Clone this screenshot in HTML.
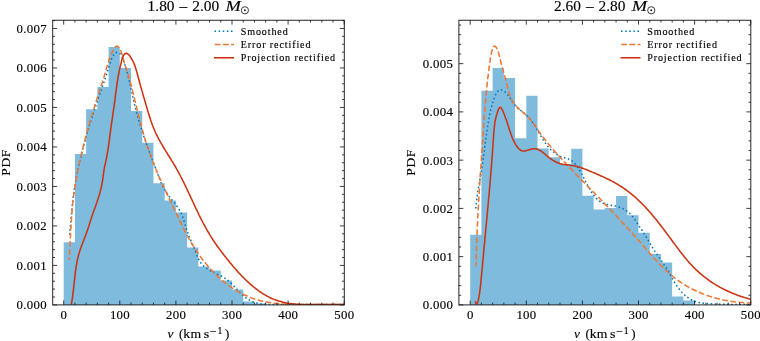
<!DOCTYPE html>
<html><head><meta charset="utf-8"><title>PDF of v</title>
<style>
html,body{margin:0;padding:0;background:#fff;}
body{width:760px;height:341px;overflow:hidden;font-family:"Liberation Serif",serif;}
svg{display:block;will-change:transform}
text{font-family:"Liberation Serif",serif;fill:#000;stroke:#000;stroke-width:0.14px}
.tk{font-size:12.8px;letter-spacing:0.3px}
.tt{font-size:15.4px}
.lg{font-size:9.6px;letter-spacing:0.85px}
</style></head><body>
<svg width="760" height="341" viewBox="0 0 760 341">
<rect width="760" height="341" fill="#fff"/>
<clipPath id="c1"><rect x="52.70" y="20.25" width="291.60" height="284.65"/></clipPath>
<g clip-path="url(#c1)">
<path d="M63.70 304.90L63.70 242.20 L74.92 242.20L74.92 154.10 L86.14 154.10L86.14 109.30 L97.36 109.30L97.36 87.10 L108.58 87.10L108.58 47.10 L119.80 47.10L119.80 68.00 L131.02 68.00L131.02 110.90 L142.24 110.90L142.24 142.80 L153.46 142.80L153.46 183.30 L164.68 183.30L164.68 200.40 L175.90 200.40L175.90 212.40 L187.12 212.40L187.12 247.50 L198.34 247.50L198.34 266.60 L209.56 266.60L209.56 270.60 L220.78 270.60L220.78 280.60 L232.00 280.60L232.00 289.60 L243.22 289.60L243.22 301.50 L254.44 301.50L254.44 303.60 L265.66 303.60L265.66 304.90Z" fill="#7FBBDD"/>
<path d="M69.8 234.8L69.8 233.6L69.9 232.4L70.0 231.2L70.1 230.0L70.2 228.8L70.3 227.6L70.4 226.4L70.5 225.2L70.6 224.0L70.7 222.8L70.8 221.6L70.9 220.4L71.0 219.2L71.1 218.0L71.2 216.8L71.3 215.6L71.4 214.4L71.6 213.2L71.7 212.0L71.8 210.8L71.9 209.6L72.0 208.4L72.1 207.2L72.2 206.0L72.4 204.8L72.5 203.6L72.6 202.4L72.8 201.2L72.9 200.0L73.0 198.9L73.2 197.7L73.3 196.5L73.5 195.3L73.6 194.1L73.8 192.9L74.0 191.7L74.1 190.5L74.3 189.3L74.5 188.1L74.7 186.9L74.9 185.8L75.1 184.6L75.3 183.4L75.5 182.2L75.7 181.0L75.9 179.8L76.1 178.6L76.3 177.5L76.6 176.3L76.8 175.1L77.0 173.9L77.3 172.7L77.5 171.5L77.8 170.4L78.0 169.2L78.3 168.0L78.5 166.8L78.8 165.7L79.0 164.5L79.3 163.3L79.6 162.1L79.9 161.0L80.1 159.8L80.4 158.6L80.7 157.4L81.0 156.3L81.3 155.1L81.6 153.9L81.9 152.8L82.1 151.6L82.4 150.4L82.7 149.3L83.0 148.1L83.4 147.0L83.7 145.8L84.0 144.6L84.3 143.5L84.6 142.3L84.9 141.2L85.2 140.0L85.5 138.8L85.9 137.7L86.2 136.5L86.5 135.4L86.9 134.2L87.2 133.1L87.5 131.9L87.9 130.8L88.2 129.6L88.5 128.5L88.9 127.3L89.2 126.2L89.6 125.0L89.9 123.9L90.3 122.7L90.6 121.6L91.0 120.4L91.4 119.3L91.7 118.1L92.1 117.0L92.5 115.8L92.8 114.7L93.2 113.5L93.6 112.4L93.9 111.2L94.3 110.1L94.7 108.9L95.1 107.8L95.5 106.7L95.9 105.5L96.3 104.4L96.7 103.2L97.0 102.1L97.4 100.9L97.8 99.8L98.2 98.6L98.6 97.5L99.0 96.4L99.4 95.2L99.8 94.1L100.3 92.9L100.7 91.8L101.1 90.6L101.5 89.5L101.9 88.4L102.2 87.2L102.6 86.1L103.0 85.0L103.4 83.8L103.8 82.7L104.2 81.6L104.6 80.4L105.0 79.3L105.3 78.2L105.7 77.1L106.1 75.9L106.4 74.8L106.8 73.7L107.1 72.6L107.5 71.5L107.8 70.3L108.1 69.2L108.5 68.1L108.8 67.0L109.2 65.9L109.5 64.7L109.9 63.5L110.3 62.4L110.8 61.2L111.2 59.9L111.7 58.6L112.3 57.4L112.9 56.1L113.6 55.0L114.3 54.0L115.0 53.2L115.9 52.7L116.8 52.5L117.7 52.5L118.7 52.8L119.6 53.4L120.4 54.1L121.1 55.0L121.7 56.1L122.2 57.2L122.7 58.4L123.1 59.6L123.5 60.8L124.0 62.0L124.4 63.1L124.8 64.3L125.1 65.5L125.5 66.7L125.9 67.9L126.2 69.1L126.6 70.2L126.9 71.4L127.2 72.6L127.5 73.8L127.8 75.0L128.1 76.1L128.4 77.3L128.7 78.5L129.0 79.6L129.3 80.8L129.6 82.0L129.8 83.2L130.1 84.3L130.3 85.5L130.6 86.7L130.9 87.8L131.1 89.0L131.4 90.1L131.6 91.3L131.9 92.5L132.1 93.6L132.4 94.8L132.6 96.0L132.9 97.1L133.1 98.3L133.4 99.4L133.6 100.6L133.9 101.8L134.2 102.9L134.5 104.1L134.7 105.2L135.0 106.4L135.3 107.6L135.6 108.7L135.9 109.9L136.2 111.0L136.5 112.2L136.8 113.4L137.2 114.5L137.5 115.7L137.8 116.8L138.1 118.0L138.5 119.2L138.8 120.3L139.1 121.5L139.5 122.6L139.8 123.8L140.2 125.0L140.6 126.1L140.9 127.3L141.3 128.4L141.7 129.6L142.0 130.7L142.4 131.9L142.8 133.0L143.2 134.2L143.5 135.3L143.9 136.5L144.3 137.6L144.7 138.8L145.1 139.9L145.5 141.1L145.9 142.2L146.3 143.4L146.7 144.5L147.1 145.6L147.5 146.8L147.9 147.9L148.3 149.1L148.8 150.2L149.2 151.3L149.6 152.5L150.0 153.6L150.4 154.7L150.8 155.9L151.3 157.0L151.7 158.1L152.1 159.2L152.5 160.4L153.0 161.5L153.4 162.6L153.8 163.7L154.2 164.9L154.7 166.0L155.1 167.1L155.5 168.2L155.9 169.3L156.4 170.4L156.8 171.5L157.2 172.6L157.6 173.7L158.1 174.8L158.5 175.9L158.9 177.0L159.3 178.1L159.7 179.2L160.1 180.3L160.6 181.4L161.0 182.5L161.5 183.6L162.0 184.7L162.5 185.7L163.1 186.8L163.7 187.9L164.3 188.9L165.0 190.0L165.7 191.0L166.4 192.0L167.1 193.1L167.8 194.1L168.4 195.1L169.0 196.1L169.7 197.1L170.4 198.1L171.1 199.1L172.0 200.0L172.9 201.0L173.8 201.9L174.6 202.8L175.3 203.8L176.0 204.7L176.6 205.6L177.1 206.5L177.7 207.4L178.4 208.4L179.0 209.3L179.6 210.3L180.2 211.3L180.8 212.3L181.3 213.4L181.8 214.5L182.2 215.6L182.7 216.7L183.1 217.9L183.5 219.1L183.8 220.3L184.2 221.4L184.5 222.6L184.9 223.8L185.2 225.0L185.6 226.2L185.9 227.4L186.3 228.6L186.7 229.7L187.1 230.9L187.5 232.0L187.9 233.1L188.3 234.3L188.7 235.4L189.2 236.5L189.6 237.6L190.1 238.7L190.6 239.8L191.0 240.9L191.5 241.9L191.9 243.0L192.4 244.1L192.9 245.2L193.3 246.3L193.8 247.4L194.2 248.5L194.7 249.6L195.1 250.8L195.6 251.9L196.0 253.0L196.4 254.2L196.9 255.3L197.3 256.4L197.8 257.6L198.3 258.7L198.9 259.7L199.5 260.8L200.1 261.8L200.8 262.8L201.6 263.8L202.4 264.7L203.2 265.5L204.1 266.4L205.0 267.1L205.9 267.8L206.9 268.5L207.8 269.2L208.9 269.8L209.9 270.4L210.9 271.0L212.0 271.5L213.1 272.1L214.2 272.6L215.3 273.1L216.3 273.6L217.4 274.2L218.5 274.7L219.6 275.2L220.7 275.8L221.8 276.3L222.8 276.9L223.9 277.5L224.9 278.2L225.9 278.8L226.8 279.5L227.8 280.3L228.7 281.0L229.6 281.8L230.5 282.7L231.4 283.5L232.2 284.4L233.1 285.2L233.9 286.1L234.8 287.0L235.6 287.9L236.4 288.8L237.3 289.7L238.1 290.6L239.0 291.5L239.8 292.4L240.7 293.2L241.6 294.1L242.5 294.9L243.4 295.7L244.3 296.5L245.2 297.3L246.2 298.0L247.2 298.7L248.2 299.3L249.2 299.9L250.2 300.5L251.2 301.0L252.3 301.5L253.4 301.9L254.5 302.3L255.6 302.7L256.7 303.0L257.8 303.3L259.0 303.5L260.1 303.7L261.3 303.9L262.5 304.1L263.7 304.2L264.9 304.3L266.1 304.4L267.3 304.5L268.5 304.5L269.7 304.6L270.9 304.6L272.1 304.6L273.4 304.6L274.6 304.6L275.8 304.6L277.0 304.6L278.3 304.6L279.5 304.6L280.7 304.6L281.9 304.6L283.2 304.6L284.4 304.6L285.6 304.6L286.8 304.6L288.0 304.6L289.2 304.6L290.4 304.5L291.6 304.5L292.8 304.5L294.0 304.5L295.2 304.5L296.4 304.5L297.6 304.5L298.8 304.5L300.0 304.5L301.2 304.5L302.4 304.5L303.6 304.5L304.8 304.5L306.0 304.5L307.2 304.5L308.4 304.5L309.6 304.5L310.8 304.5L312.0 304.5L313.2 304.5L314.4 304.5L315.6 304.5L316.8 304.5L318.0 304.6L319.2 304.6L320.4 304.6L321.6 304.6L322.8 304.6L324.0 304.6L325.2 304.6L326.4 304.6L327.6 304.6L328.8 304.6L330.0 304.6L331.2 304.6L332.4 304.6L333.6 304.6L334.8 304.6L336.0 304.6L337.2 304.6L338.5 304.6L339.7 304.6L340.9 304.6L342.1 304.6L343.3 304.6L344.5 304.6" fill="none" stroke="#0077BB" stroke-width="1.55" stroke-dasharray="1.55 2.56" stroke-dashoffset="0.00"/>
<path d="M69.3 260.1L69.3 258.9L69.4 257.7L69.5 256.5L69.5 255.3L69.6 254.1L69.6 252.9L69.7 251.7L69.8 250.5L69.8 249.3L69.9 248.1L69.9 246.9L70.0 245.7L70.1 244.4L70.1 243.2L70.2 242.0L70.2 240.8L70.3 239.6L70.3 238.4L70.4 237.2L70.5 236.0L70.5 234.8L70.6 233.6L70.6 232.4L70.7 231.2L70.8 230.0L70.8 228.8L70.9 227.6L71.0 226.4L71.1 225.2L71.1 224.0L71.2 222.8L71.3 221.6L71.4 220.4L71.4 219.2L71.5 218.0L71.6 216.8L71.7 215.6L71.8 214.4L71.9 213.2L72.0 212.0L72.1 210.8L72.2 209.6L72.3 208.4L72.4 207.2L72.5 206.0L72.6 204.8L72.7 203.6L72.9 202.4L73.0 201.2L73.1 200.0L73.3 198.8L73.4 197.6L73.5 196.5L73.7 195.3L73.9 194.1L74.0 192.9L74.2 191.7L74.3 190.5L74.5 189.3L74.7 188.1L74.9 186.9L75.1 185.7L75.2 184.5L75.4 183.4L75.6 182.2L75.8 181.0L76.0 179.8L76.2 178.6L76.5 177.4L76.7 176.2L76.9 175.1L77.1 173.9L77.3 172.7L77.6 171.5L77.8 170.3L78.0 169.1L78.3 168.0L78.5 166.8L78.8 165.6L79.0 164.4L79.3 163.2L79.5 162.1L79.8 160.9L80.1 159.7L80.3 158.5L80.6 157.4L80.9 156.2L81.2 155.0L81.4 153.8L81.7 152.7L82.0 151.5L82.3 150.3L82.6 149.1L82.9 148.0L83.2 146.8L83.5 145.6L83.7 144.5L84.0 143.3L84.4 142.1L84.7 141.0L85.0 139.8L85.3 138.6L85.6 137.5L85.9 136.3L86.2 135.1L86.5 134.0L86.9 132.8L87.2 131.6L87.5 130.5L87.8 129.3L88.1 128.2L88.5 127.0L88.8 125.8L89.1 124.7L89.5 123.5L89.8 122.4L90.1 121.2L90.5 120.1L90.8 118.9L91.2 117.8L91.5 116.6L91.8 115.5L92.2 114.3L92.5 113.2L92.9 112.0L93.2 110.9L93.6 109.7L93.9 108.6L94.3 107.4L94.6 106.3L95.0 105.1L95.3 104.0L95.7 102.8L96.0 101.7L96.4 100.5L96.8 99.4L97.1 98.2L97.5 97.1L97.9 95.9L98.2 94.8L98.6 93.7L99.0 92.5L99.4 91.4L99.7 90.2L100.1 89.1L100.5 87.9L100.9 86.8L101.2 85.6L101.6 84.5L102.0 83.3L102.4 82.2L102.7 81.0L103.1 79.9L103.5 78.7L103.8 77.6L104.2 76.4L104.5 75.3L104.9 74.1L105.2 73.0L105.5 71.8L105.9 70.7L106.2 69.5L106.5 68.4L106.8 67.3L107.2 66.1L107.5 65.0L107.8 63.8L108.2 62.7L108.6 61.5L108.9 60.4L109.3 59.2L109.8 58.1L110.2 56.9L110.7 55.8L111.1 54.6L111.7 53.5L112.2 52.3L112.8 51.2L113.4 50.0L114.0 48.9L114.7 47.8L115.4 46.9L116.2 46.2L116.9 46.0L117.6 46.2L118.3 46.8L119.0 47.6L119.7 48.7L120.2 49.9L120.8 51.0L121.3 52.2L121.7 53.4L122.1 54.6L122.5 55.9L122.8 57.1L123.2 58.3L123.5 59.5L123.8 60.7L124.2 61.8L124.5 63.0L124.9 64.2L125.2 65.3L125.6 66.4L125.9 67.6L126.3 68.7L126.7 69.8L127.0 70.9L127.4 72.0L127.7 73.2L128.1 74.3L128.4 75.4L128.7 76.6L129.1 77.7L129.4 78.9L129.7 80.0L130.0 81.2L130.3 82.3L130.6 83.5L130.9 84.6L131.3 85.8L131.6 87.0L131.9 88.1L132.2 89.3L132.5 90.5L132.7 91.7L133.0 92.8L133.3 94.0L133.6 95.2L133.9 96.4L134.2 97.6L134.5 98.7L134.8 99.9L135.0 101.1L135.3 102.3L135.6 103.5L135.9 104.7L136.2 105.9L136.5 107.0L136.8 108.2L137.0 109.4L137.3 110.6L137.6 111.8L137.9 112.9L138.2 114.1L138.5 115.3L138.8 116.5L139.1 117.7L139.4 118.8L139.7 120.0L140.0 121.2L140.3 122.3L140.6 123.5L140.9 124.7L141.2 125.8L141.5 127.0L141.9 128.1L142.2 129.3L142.5 130.5L142.8 131.6L143.2 132.8L143.5 133.9L143.8 135.1L144.2 136.2L144.5 137.4L144.9 138.5L145.2 139.6L145.6 140.8L145.9 141.9L146.3 143.1L146.6 144.2L147.0 145.3L147.4 146.5L147.8 147.6L148.1 148.7L148.5 149.8L148.9 151.0L149.3 152.1L149.7 153.2L150.1 154.3L150.5 155.5L150.9 156.6L151.3 157.7L151.7 158.8L152.2 159.9L152.6 161.1L153.0 162.2L153.5 163.3L153.9 164.4L154.3 165.5L154.8 166.6L155.3 167.7L155.7 168.8L156.2 170.0L156.6 171.1L157.1 172.2L157.6 173.3L158.1 174.4L158.6 175.5L159.0 176.6L159.5 177.7L160.0 178.8L160.5 179.9L161.0 181.0L161.5 182.1L162.0 183.2L162.5 184.3L163.0 185.4L163.5 186.5L164.1 187.6L164.6 188.7L165.1 189.8L165.6 190.9L166.1 192.0L166.6 193.1L167.1 194.2L167.7 195.3L168.2 196.4L168.7 197.4L169.2 198.5L169.8 199.6L170.3 200.7L170.8 201.8L171.3 202.9L171.8 204.0L172.4 205.1L172.9 206.2L173.4 207.3L173.9 208.4L174.5 209.5L175.0 210.6L175.5 211.6L176.0 212.7L176.5 213.8L177.0 214.9L177.6 216.0L178.1 217.1L178.6 218.2L179.1 219.3L179.6 220.4L180.1 221.5L180.7 222.5L181.2 223.6L181.7 224.7L182.2 225.8L182.8 226.9L183.3 227.9L183.8 229.0L184.4 230.1L184.9 231.2L185.5 232.2L186.0 233.3L186.6 234.4L187.2 235.4L187.8 236.5L188.3 237.5L188.9 238.6L189.5 239.6L190.1 240.7L190.7 241.7L191.3 242.8L192.0 243.8L192.6 244.8L193.2 245.9L193.9 246.9L194.5 247.9L195.2 248.9L195.8 249.9L196.5 250.9L197.2 251.9L197.8 252.9L198.5 253.9L199.2 254.9L199.9 255.9L200.6 256.9L201.3 257.8L202.0 258.8L202.8 259.7L203.5 260.7L204.2 261.6L205.0 262.6L205.7 263.5L206.5 264.4L207.3 265.3L208.0 266.3L208.8 267.2L209.6 268.1L210.4 269.0L211.2 269.8L212.0 270.7L212.8 271.6L213.7 272.4L214.5 273.3L215.3 274.1L216.2 275.0L217.1 275.8L217.9 276.6L218.8 277.4L219.7 278.2L220.6 279.0L221.5 279.8L222.4 280.6L223.3 281.4L224.3 282.1L225.2 282.9L226.2 283.6L227.1 284.3L228.1 285.1L229.1 285.8L230.0 286.5L231.0 287.2L232.0 287.8L233.1 288.5L234.1 289.2L235.1 289.8L236.1 290.4L237.2 291.1L238.2 291.7L239.3 292.3L240.3 292.8L241.4 293.4L242.5 294.0L243.6 294.5L244.7 295.0L245.8 295.5L246.9 296.0L248.0 296.5L249.1 297.0L250.2 297.4L251.3 297.9L252.5 298.3L253.6 298.7L254.7 299.1L255.9 299.4L257.0 299.8L258.2 300.1L259.4 300.4L260.5 300.7L261.7 301.0L262.8 301.3L264.0 301.6L265.2 301.8L266.4 302.0L267.6 302.2L268.7 302.4L269.9 302.6L271.1 302.8L272.3 303.0L273.5 303.1L274.7 303.3L275.9 303.4L277.1 303.5L278.3 303.6L279.5 303.7L280.7 303.8L281.9 303.9L283.1 304.0L284.3 304.1L285.5 304.2L286.7 304.2L287.9 304.3L289.1 304.4L290.3 304.4L291.5 304.4L292.7 304.5L293.9 304.5L295.1 304.6L296.3 304.6L297.5 304.6L298.7 304.6L299.9 304.6L301.1 304.6L302.3 304.6L303.5 304.6L304.8 304.6L306.0 304.6L307.2 304.6L308.4 304.6L309.6 304.6L310.8 304.6L312.0 304.6L313.2 304.6L314.4 304.6L315.6 304.6L316.8 304.6L318.0 304.6L319.2 304.6L320.4 304.5L321.6 304.5L322.8 304.5L324.0 304.5L325.2 304.5L326.5 304.5L327.7 304.5L328.9 304.5L330.1 304.5L331.3 304.5L332.5 304.5L333.7 304.5L334.9 304.5L336.1 304.5L337.3 304.5L338.5 304.5L339.7 304.6L340.9 304.6L342.1 304.6L343.3 304.6L344.5 304.6" fill="none" stroke="#EE7733" stroke-width="1.55" stroke-dasharray="5.74 2.48" stroke-dashoffset="3.00"/>
<path d="M71.3 304.6L71.4 303.6L71.7 302.3L71.9 301.1L72.1 299.9L72.3 298.6L72.5 297.4L72.6 296.2L72.8 295.0L73.0 293.7L73.1 292.5L73.3 291.3L73.4 290.1L73.5 288.9L73.7 287.7L73.8 286.5L73.9 285.3L74.1 284.1L74.2 282.9L74.3 281.7L74.4 280.5L74.6 279.3L74.7 278.1L74.8 277.0L75.0 275.8L75.1 274.6L75.2 273.4L75.4 272.2L75.5 271.1L75.7 269.9L75.9 268.7L76.0 267.6L76.2 266.4L76.4 265.2L76.6 264.1L76.8 262.9L77.0 261.8L77.3 260.6L77.5 259.4L77.8 258.3L78.1 257.1L78.3 256.0L78.6 254.8L79.0 253.7L79.3 252.5L79.7 251.4L80.0 250.2L80.4 249.1L80.8 248.0L81.2 246.8L81.6 245.7L82.1 244.5L82.5 243.4L82.9 242.2L83.4 241.1L83.8 240.0L84.2 238.8L84.7 237.7L85.1 236.5L85.6 235.4L86.0 234.3L86.4 233.1L86.8 232.0L87.2 230.9L87.6 229.7L88.0 228.6L88.4 227.4L88.8 226.3L89.1 225.2L89.5 224.0L89.8 222.9L90.2 221.8L90.5 220.6L90.9 219.5L91.3 218.3L91.6 217.2L92.0 216.1L92.4 214.9L92.8 213.8L93.2 212.6L93.6 211.5L94.0 210.3L94.4 209.2L94.9 208.0L95.3 206.9L95.7 205.8L96.1 204.6L96.5 203.4L96.9 202.3L97.3 201.1L97.7 200.0L98.0 198.8L98.4 197.7L98.8 196.5L99.1 195.4L99.5 194.2L99.8 193.0L100.1 191.9L100.4 190.7L100.7 189.5L101.0 188.4L101.3 187.2L101.5 186.0L101.8 184.9L102.0 183.7L102.2 182.5L102.4 181.4L102.6 180.2L102.8 179.0L103.0 177.8L103.1 176.7L103.3 175.5L103.4 174.3L103.6 173.1L103.7 172.0L103.9 170.8L104.1 169.6L104.3 168.4L104.5 167.2L104.7 166.1L105.0 164.9L105.3 163.7L105.5 162.5L105.8 161.3L106.0 160.2L106.3 159.0L106.5 157.8L106.8 156.6L107.0 155.4L107.2 154.2L107.4 153.0L107.6 151.9L107.8 150.7L108.0 149.5L108.2 148.3L108.4 147.1L108.5 145.9L108.7 144.7L108.9 143.5L109.0 142.3L109.2 141.2L109.4 140.0L109.5 138.8L109.7 137.6L109.8 136.4L110.0 135.2L110.1 134.0L110.3 132.8L110.4 131.6L110.6 130.4L110.8 129.2L110.9 128.1L111.1 126.9L111.2 125.7L111.4 124.5L111.6 123.3L111.8 122.1L111.9 120.9L112.1 119.7L112.3 118.5L112.5 117.3L112.6 116.1L112.8 114.9L113.0 113.7L113.1 112.6L113.3 111.4L113.5 110.2L113.7 109.0L113.8 107.8L114.0 106.6L114.2 105.4L114.3 104.2L114.5 103.0L114.7 101.8L114.8 100.6L115.0 99.4L115.1 98.2L115.3 97.0L115.4 95.8L115.6 94.6L115.7 93.4L115.9 92.2L116.1 91.0L116.2 89.8L116.4 88.6L116.5 87.4L116.7 86.2L116.9 85.0L117.0 83.9L117.2 82.7L117.4 81.5L117.6 80.4L117.7 79.2L117.9 78.1L118.1 76.9L118.3 75.7L118.6 74.6L118.8 73.4L119.0 72.3L119.2 71.1L119.5 69.9L119.7 68.7L120.0 67.5L120.3 66.3L120.6 65.1L120.9 63.9L121.2 62.6L121.5 61.3L121.8 60.0L122.2 58.7L122.6 57.5L123.1 56.4L123.6 55.3L124.3 54.5L125.0 53.8L125.8 53.4L126.6 53.3L127.4 53.7L128.3 54.3L129.1 55.1L129.9 56.1L130.6 57.2L131.3 58.2L131.9 59.3L132.5 60.4L133.1 61.5L133.6 62.6L134.1 63.8L134.5 64.9L135.0 66.1L135.4 67.2L135.7 68.4L136.1 69.5L136.4 70.7L136.8 71.8L137.1 73.0L137.4 74.2L137.7 75.3L138.0 76.5L138.3 77.7L138.6 78.8L139.0 80.0L139.3 81.2L139.6 82.3L139.9 83.5L140.2 84.6L140.5 85.8L140.9 86.9L141.2 88.1L141.5 89.2L141.8 90.4L142.2 91.6L142.5 92.7L142.8 93.9L143.2 95.0L143.5 96.2L143.8 97.3L144.2 98.5L144.5 99.6L144.8 100.8L145.2 101.9L145.5 103.1L145.8 104.2L146.2 105.4L146.5 106.5L146.9 107.7L147.2 108.9L147.5 110.0L147.9 111.2L148.2 112.3L148.6 113.5L148.9 114.6L149.3 115.8L149.7 117.0L150.0 118.1L150.4 119.2L150.8 120.4L151.2 121.5L151.6 122.7L152.0 123.8L152.4 124.9L152.8 126.1L153.3 127.2L153.7 128.3L154.2 129.4L154.7 130.5L155.1 131.6L155.6 132.7L156.1 133.8L156.7 134.9L157.2 135.9L157.7 137.0L158.3 138.1L158.8 139.1L159.4 140.2L160.0 141.3L160.6 142.3L161.2 143.3L161.8 144.4L162.4 145.4L163.0 146.5L163.6 147.5L164.2 148.5L164.9 149.6L165.5 150.6L166.1 151.6L166.8 152.6L167.4 153.7L168.0 154.7L168.7 155.7L169.3 156.7L169.9 157.8L170.6 158.8L171.2 159.8L171.8 160.8L172.5 161.9L173.1 162.9L173.7 163.9L174.3 165.0L175.0 166.0L175.6 167.0L176.2 168.1L176.7 169.1L177.3 170.2L177.9 171.2L178.5 172.3L179.1 173.4L179.6 174.4L180.2 175.5L180.7 176.5L181.3 177.6L181.8 178.7L182.4 179.8L182.9 180.8L183.5 181.9L184.0 183.0L184.5 184.1L185.0 185.1L185.6 186.2L186.1 187.3L186.6 188.4L187.1 189.5L187.6 190.6L188.1 191.7L188.6 192.7L189.1 193.8L189.7 194.9L190.2 196.0L190.7 197.1L191.2 198.2L191.7 199.3L192.2 200.4L192.7 201.5L193.2 202.5L193.7 203.6L194.2 204.7L194.7 205.8L195.2 206.9L195.7 208.0L196.2 209.1L196.8 210.2L197.3 211.2L197.8 212.3L198.3 213.4L198.8 214.5L199.4 215.6L199.9 216.6L200.4 217.7L201.0 218.8L201.5 219.9L202.1 220.9L202.6 222.0L203.2 223.1L203.8 224.1L204.3 225.2L204.9 226.2L205.5 227.3L206.1 228.3L206.6 229.4L207.2 230.4L207.8 231.5L208.5 232.5L209.1 233.5L209.7 234.6L210.3 235.6L211.0 236.6L211.6 237.7L212.3 238.7L212.9 239.7L213.6 240.7L214.3 241.7L214.9 242.7L215.6 243.7L216.3 244.7L217.0 245.7L217.7 246.7L218.4 247.7L219.2 248.6L219.9 249.6L220.6 250.6L221.3 251.6L222.0 252.5L222.8 253.5L223.5 254.4L224.2 255.4L225.0 256.3L225.7 257.3L226.5 258.2L227.2 259.2L228.0 260.1L228.7 261.0L229.5 262.0L230.2 262.9L231.0 263.8L231.8 264.7L232.5 265.6L233.3 266.5L234.1 267.5L234.8 268.3L235.6 269.2L236.4 270.1L237.2 271.0L238.0 271.9L238.8 272.8L239.6 273.7L240.5 274.5L241.3 275.4L242.1 276.3L243.0 277.1L243.8 278.0L244.7 278.8L245.5 279.7L246.4 280.5L247.3 281.4L248.2 282.2L249.1 283.0L250.0 283.8L250.9 284.6L251.8 285.4L252.7 286.2L253.7 287.0L254.6 287.7L255.5 288.5L256.5 289.2L257.5 289.9L258.4 290.6L259.4 291.3L260.4 292.0L261.4 292.7L262.4 293.3L263.4 294.0L264.5 294.6L265.5 295.2L266.5 295.8L267.6 296.4L268.6 296.9L269.7 297.5L270.8 298.0L271.9 298.5L273.0 298.9L274.1 299.4L275.2 299.8L276.3 300.2L277.4 300.6L278.5 301.0L279.7 301.3L280.8 301.6L282.0 301.9L283.2 302.2L284.3 302.5L285.5 302.7L286.7 303.0L287.9 303.2L289.1 303.4L290.3 303.5L291.5 303.7L292.7 303.8L293.9 304.0L295.1 304.1L296.3 304.2L297.5 304.3L298.7 304.4L300.0 304.4L301.2 304.5L302.4 304.5L303.6 304.6L304.8 304.6L306.1 304.6L307.3 304.6L308.5 304.6L309.7 304.6L310.9 304.6L312.1 304.6L313.3 304.6L314.6 304.6L315.8 304.6L317.0 304.6L318.2 304.6L319.3 304.5L320.5 304.5L321.7 304.5L322.9 304.5L324.1 304.4L325.3 304.4L326.5 304.4L327.6 304.4L328.8 304.4L330.0 304.4L331.2 304.4L332.4 304.4L333.6 304.4L334.8 304.4L336.0 304.4L337.2 304.5L338.4 304.5L339.6 304.5L340.8 304.6L342.1 304.6L343.3 304.6L344.5 304.6" fill="none" stroke="#CC3311" stroke-width="1.55" stroke-linejoin="round"/>
</g>
<path d="M63.70 304.90v-4.40M63.70 20.25v4.40M74.92 304.90v-2.30M74.92 20.25v2.30M86.14 304.90v-2.30M86.14 20.25v2.30M97.36 304.90v-2.30M97.36 20.25v2.30M108.58 304.90v-2.30M108.58 20.25v2.30M119.80 304.90v-4.40M119.80 20.25v4.40M131.02 304.90v-2.30M131.02 20.25v2.30M142.24 304.90v-2.30M142.24 20.25v2.30M153.46 304.90v-2.30M153.46 20.25v2.30M164.68 304.90v-2.30M164.68 20.25v2.30M175.90 304.90v-4.40M175.90 20.25v4.40M187.12 304.90v-2.30M187.12 20.25v2.30M198.34 304.90v-2.30M198.34 20.25v2.30M209.56 304.90v-2.30M209.56 20.25v2.30M220.78 304.90v-2.30M220.78 20.25v2.30M232.00 304.90v-4.40M232.00 20.25v4.40M243.22 304.90v-2.30M243.22 20.25v2.30M254.44 304.90v-2.30M254.44 20.25v2.30M265.66 304.90v-2.30M265.66 20.25v2.30M276.88 304.90v-2.30M276.88 20.25v2.30M288.10 304.90v-4.40M288.10 20.25v4.40M299.32 304.90v-2.30M299.32 20.25v2.30M310.54 304.90v-2.30M310.54 20.25v2.30M321.76 304.90v-2.30M321.76 20.25v2.30M332.98 304.90v-2.30M332.98 20.25v2.30M344.20 304.90v-4.40M344.20 20.25v4.40M52.70 304.90h4.40M344.30 304.90h-4.40M52.70 297.00h2.30M344.30 297.00h-2.30M52.70 289.10h2.30M344.30 289.10h-2.30M52.70 281.21h2.30M344.30 281.21h-2.30M52.70 273.31h2.30M344.30 273.31h-2.30M52.70 265.41h4.40M344.30 265.41h-4.40M52.70 257.51h2.30M344.30 257.51h-2.30M52.70 249.61h2.30M344.30 249.61h-2.30M52.70 241.72h2.30M344.30 241.72h-2.30M52.70 233.82h2.30M344.30 233.82h-2.30M52.70 225.92h4.40M344.30 225.92h-4.40M52.70 218.02h2.30M344.30 218.02h-2.30M52.70 210.12h2.30M344.30 210.12h-2.30M52.70 202.23h2.30M344.30 202.23h-2.30M52.70 194.33h2.30M344.30 194.33h-2.30M52.70 186.43h4.40M344.30 186.43h-4.40M52.70 178.53h2.30M344.30 178.53h-2.30M52.70 170.63h2.30M344.30 170.63h-2.30M52.70 162.74h2.30M344.30 162.74h-2.30M52.70 154.84h2.30M344.30 154.84h-2.30M52.70 146.94h4.40M344.30 146.94h-4.40M52.70 139.04h2.30M344.30 139.04h-2.30M52.70 131.14h2.30M344.30 131.14h-2.30M52.70 123.25h2.30M344.30 123.25h-2.30M52.70 115.35h2.30M344.30 115.35h-2.30M52.70 107.45h4.40M344.30 107.45h-4.40M52.70 99.55h2.30M344.30 99.55h-2.30M52.70 91.65h2.30M344.30 91.65h-2.30M52.70 83.76h2.30M344.30 83.76h-2.30M52.70 75.86h2.30M344.30 75.86h-2.30M52.70 67.96h4.40M344.30 67.96h-4.40M52.70 60.06h2.30M344.30 60.06h-2.30M52.70 52.16h2.30M344.30 52.16h-2.30M52.70 44.27h2.30M344.30 44.27h-2.30M52.70 36.37h2.30M344.30 36.37h-2.30M52.70 28.47h4.40M344.30 28.47h-4.40M52.70 20.57h2.30M344.30 20.57h-2.30" stroke="#1a1a1a" stroke-width="0.85" fill="none"/>
<rect x="52.70" y="20.25" width="291.60" height="284.65" fill="none" stroke="#1a1a1a" stroke-width="0.95"/>
<text class="tk" x="63.85" y="319.4" text-anchor="middle">0</text>
<text class="tk" x="119.95" y="319.4" text-anchor="middle">100</text>
<text class="tk" x="176.05" y="319.4" text-anchor="middle">200</text>
<text class="tk" x="232.15" y="319.4" text-anchor="middle">300</text>
<text class="tk" x="288.25" y="319.4" text-anchor="middle">400</text>
<text class="tk" x="344.35" y="319.4" text-anchor="middle">500</text>
<text class="tk" x="46.90" y="309.30" text-anchor="end">0.000</text>
<text class="tk" x="46.90" y="269.81" text-anchor="end">0.001</text>
<text class="tk" x="46.90" y="230.32" text-anchor="end">0.002</text>
<text class="tk" x="46.90" y="190.83" text-anchor="end">0.003</text>
<text class="tk" x="46.90" y="151.34" text-anchor="end">0.004</text>
<text class="tk" x="46.90" y="111.85" text-anchor="end">0.005</text>
<text class="tk" x="46.90" y="72.36" text-anchor="end">0.006</text>
<text class="tk" x="46.90" y="32.87" text-anchor="end">0.007</text>
<text class="tk" transform="translate(9.80 162.4) rotate(-90)" text-anchor="middle" style="letter-spacing:0.7px;font-size:13.4px">PDF</text>
<text class="tk" x="167.60" y="337.70" font-style="italic" style="font-size:13.4px">v</text>
<text class="tk" x="179.10" y="337.70">(</text>
<text class="tk" transform="translate(183.30 337.70) scale(1.07 1)">km</text>
<text class="tk" transform="translate(203.70 337.70) scale(1.1 1)">s</text>
<path d="M210.20 331.45h5.8" stroke="#1a1a1a" stroke-width="0.8"/>
<text class="tk" x="217.40" y="334.4" style="font-size:9.8px">1</text>
<text class="tk" x="225.00" y="337.70">)</text>
<text class="tt" x="147.60" y="10.8">1.80</text>
<text class="tt" x="179.60" y="10.8">–</text>
<text class="tt" x="192.20" y="10.8">2.00</text>
<text class="tt" transform="translate(225.40 10.8) scale(1.2 1)" font-style="italic">M</text>
<circle cx="244.90" cy="10.3" r="3.6" fill="none" stroke="#1a1a1a" stroke-width="0.85"/>
<circle cx="244.90" cy="10.3" r="0.95" fill="#1a1a1a"/>
<path d="M214.00 31.30H234.00" stroke="#0077BB" stroke-width="1.55" stroke-dasharray="1.55 2.56" stroke-dashoffset="-0.50"/>
<text class="lg" transform="translate(240.70 34.60) scale(1.05 1)">Smoothed</text>
<path d="M214.00 44.55H234.00" stroke="#EE7733" stroke-width="1.55" stroke-dasharray="5.74 2.48" stroke-dashoffset="-0.70"/>
<text class="lg" transform="translate(240.70 47.85) scale(1.05 1)">Error rectified</text>
<path d="M214.00 57.80H234.00" stroke="#CC3311" stroke-width="1.55"/>
<text class="lg" transform="translate(240.70 61.10) scale(1.05 1)">Projection rectified</text>
<clipPath id="c2"><rect x="458.90" y="20.25" width="291.90" height="284.65"/></clipPath>
<g clip-path="url(#c2)">
<path d="M470.20 304.90L470.20 234.70 L481.42 234.70L481.42 90.80 L492.64 90.80L492.64 68.00 L503.86 68.00L503.86 78.00 L515.08 78.00L515.08 138.20 L526.30 138.20L526.30 95.80 L537.52 95.80L537.52 148.50 L548.74 148.50L548.74 157.30 L559.96 157.30L559.96 164.10 L571.18 164.10L571.18 148.70 L582.40 148.70L582.40 195.80 L593.62 195.80L593.62 209.60 L604.84 209.60L604.84 208.00 L616.06 208.00L616.06 196.10 L627.28 196.10L627.28 215.20 L638.50 215.20L638.50 232.70 L649.72 232.70L649.72 254.00 L660.94 254.00L660.94 262.50 L672.16 262.50L672.16 296.60 L683.38 296.60L683.38 300.50 L694.60 300.50L694.60 304.90Z" fill="#7FBBDD"/>
<path d="M475.8 208.5L475.9 207.3L476.0 206.1L476.1 204.9L476.2 203.7L476.3 202.5L476.5 201.3L476.6 200.1L476.8 199.0L476.9 197.8L477.1 196.6L477.3 195.4L477.5 194.2L477.7 193.0L477.8 191.8L478.0 190.6L478.2 189.4L478.4 188.2L478.6 187.1L478.9 185.9L479.1 184.7L479.3 183.5L479.5 182.3L479.7 181.1L479.9 179.9L480.1 178.7L480.3 177.5L480.5 176.3L480.7 175.1L480.9 173.9L481.1 172.7L481.3 171.6L481.5 170.4L481.6 169.2L481.8 168.0L482.0 166.8L482.2 165.6L482.4 164.4L482.5 163.2L482.7 162.0L482.9 160.8L483.1 159.6L483.2 158.4L483.4 157.2L483.6 156.1L483.7 154.9L483.9 153.7L484.1 152.5L484.2 151.3L484.4 150.1L484.5 148.9L484.7 147.7L484.9 146.5L485.0 145.3L485.2 144.1L485.3 143.0L485.5 141.8L485.6 140.6L485.8 139.4L485.9 138.2L486.1 137.0L486.3 135.8L486.4 134.7L486.6 133.5L486.7 132.3L486.9 131.1L487.1 129.9L487.2 128.7L487.4 127.5L487.6 126.4L487.8 125.2L488.0 124.0L488.2 122.8L488.4 121.6L488.6 120.4L488.8 119.2L489.0 118.1L489.2 116.9L489.5 115.7L489.7 114.5L490.0 113.3L490.2 112.1L490.5 110.9L490.8 109.8L491.1 108.6L491.4 107.4L491.7 106.2L492.0 105.0L492.4 103.8L492.7 102.6L493.1 101.4L493.5 100.2L493.9 99.1L494.3 97.9L494.7 96.7L495.2 95.6L495.7 94.5L496.3 93.4L496.9 92.5L497.6 91.5L498.4 90.8L499.2 90.2L500.1 89.9L501.1 89.9L502.1 90.2L503.2 90.7L504.3 91.4L505.3 92.2L506.2 93.0L507.0 93.9L507.8 94.9L508.6 95.8L509.3 96.8L510.0 97.9L510.6 98.9L511.3 99.9L512.0 101.0L512.6 102.0L513.3 103.0L514.0 104.0L514.8 104.9L515.6 105.8L516.4 106.7L517.3 107.6L518.2 108.4L519.1 109.2L520.1 109.9L521.0 110.7L522.0 111.4L522.9 112.2L523.9 113.0L524.8 113.7L525.7 114.5L526.6 115.3L527.5 116.1L528.3 117.0L529.1 117.9L529.9 118.8L530.6 119.7L531.4 120.6L532.1 121.6L532.7 122.5L533.4 123.5L534.1 124.5L534.7 125.5L535.3 126.5L535.9 127.6L536.5 128.6L537.1 129.6L537.8 130.7L538.4 131.7L539.0 132.8L539.6 133.8L540.2 134.9L540.8 135.9L541.4 137.0L542.0 138.0L542.7 139.1L543.3 140.1L544.0 141.1L544.7 142.1L545.4 143.1L546.1 144.1L546.9 145.0L547.6 146.0L548.4 146.9L549.2 147.8L550.0 148.7L550.8 149.6L551.7 150.4L552.5 151.2L553.4 152.0L554.4 152.7L555.3 153.4L556.3 154.1L557.3 154.7L558.3 155.3L559.3 155.9L560.4 156.4L561.5 156.8L562.6 157.2L563.8 157.6L565.0 157.9L566.1 158.3L567.3 158.6L568.4 159.0L569.6 159.5L570.6 160.0L571.7 160.6L572.6 161.3L573.6 162.1L574.4 163.0L575.2 164.0L576.0 165.0L576.8 166.0L577.5 167.0L578.2 168.0L578.8 169.0L579.5 170.1L580.1 171.1L580.7 172.1L581.2 173.1L581.8 174.2L582.4 175.2L582.9 176.3L583.4 177.3L584.0 178.3L584.5 179.4L585.0 180.4L585.6 181.5L586.1 182.6L586.6 183.6L587.2 184.7L587.7 185.7L588.3 186.8L588.9 187.8L589.5 188.9L590.1 189.9L590.8 191.0L591.5 192.1L592.2 193.1L592.9 194.1L593.6 195.1L594.4 196.1L595.2 197.1L596.0 198.0L596.9 198.9L597.8 199.7L598.7 200.5L599.7 201.2L600.6 201.9L601.6 202.5L602.7 203.0L603.8 203.4L604.9 203.8L606.0 204.1L607.1 204.4L608.3 204.7L609.4 204.9L610.6 205.1L611.8 205.4L613.0 205.6L614.2 205.8L615.4 206.1L616.6 206.4L617.8 206.7L618.9 207.1L620.1 207.5L621.2 208.0L622.4 208.5L623.5 209.1L624.5 209.7L625.6 210.3L626.6 211.0L627.6 211.7L628.5 212.4L629.4 213.2L630.3 214.0L631.1 214.8L631.9 215.7L632.7 216.6L633.4 217.5L634.1 218.4L634.7 219.4L635.4 220.3L636.0 221.3L636.7 222.3L637.3 223.3L638.0 224.3L638.6 225.3L639.3 226.4L640.0 227.4L640.7 228.4L641.4 229.5L642.1 230.5L642.7 231.6L643.4 232.6L644.1 233.6L644.7 234.7L645.4 235.7L646.0 236.7L646.6 237.8L647.2 238.8L647.9 239.8L648.5 240.8L649.1 241.8L649.7 242.8L650.3 243.8L650.9 244.8L651.5 245.8L652.1 246.9L652.7 247.9L653.4 248.9L654.0 249.9L654.6 250.9L655.3 251.9L655.9 252.9L656.6 253.9L657.3 254.9L657.9 255.9L658.6 256.9L659.3 257.9L660.1 259.0L660.8 260.0L661.5 261.0L662.2 262.0L662.9 263.0L663.6 264.0L664.3 265.1L665.0 266.1L665.7 267.1L666.4 268.1L667.0 269.1L667.6 270.2L668.3 271.2L668.9 272.2L669.4 273.2L670.0 274.2L670.6 275.3L671.1 276.3L671.7 277.3L672.3 278.3L672.8 279.3L673.4 280.3L674.0 281.3L674.6 282.4L675.2 283.4L675.8 284.4L676.5 285.4L677.2 286.4L677.9 287.4L678.6 288.4L679.4 289.3L680.2 290.3L681.0 291.2L681.8 292.2L682.7 293.1L683.6 294.0L684.5 294.8L685.4 295.6L686.3 296.4L687.3 297.2L688.3 297.9L689.3 298.6L690.3 299.2L691.3 299.8L692.4 300.4L693.4 300.8L694.5 301.3L695.6 301.7L696.7 302.0L697.8 302.3L699.0 302.5L700.1 302.7L701.3 302.9L702.5 303.1L703.7 303.2L704.8 303.3L706.0 303.4L707.3 303.5L708.5 303.6L709.7 303.7L710.9 303.7L712.1 303.8L713.4 303.9L714.6 303.9L715.8 304.0L717.1 304.0L718.3 304.1L719.5 304.1L720.8 304.2L722.0 304.2L723.2 304.2L724.4 304.3L725.7 304.3L726.9 304.3L728.1 304.3L729.3 304.3L730.5 304.3L731.6 304.4L732.8 304.4L734.0 304.4L735.2 304.4L736.3 304.4L737.5 304.4L738.7 304.4L739.9 304.4L741.1 304.4L742.3 304.4L743.5 304.4L744.7 304.4L745.9 304.4L747.1 304.4L748.3 304.5L749.6 304.5L750.8 304.5" fill="none" stroke="#0077BB" stroke-width="1.55" stroke-dasharray="1.55 2.56" stroke-dashoffset="0.00"/>
<path d="M476.1 266.3L476.1 265.1L476.2 263.9L476.2 262.7L476.2 261.5L476.2 260.3L476.3 259.1L476.3 257.9L476.3 256.7L476.3 255.5L476.4 254.3L476.4 253.1L476.4 251.9L476.5 250.7L476.5 249.5L476.5 248.3L476.6 247.0L476.6 245.8L476.6 244.6L476.7 243.4L476.7 242.2L476.8 241.0L476.8 239.8L476.8 238.6L476.9 237.4L476.9 236.2L477.0 235.0L477.0 233.8L477.1 232.6L477.1 231.4L477.2 230.2L477.2 229.0L477.3 227.8L477.3 226.6L477.4 225.4L477.5 224.2L477.5 223.0L477.6 221.8L477.6 220.6L477.7 219.4L477.7 218.2L477.8 217.0L477.9 215.8L477.9 214.6L478.0 213.4L478.1 212.2L478.1 211.0L478.2 209.8L478.2 208.6L478.3 207.4L478.4 206.2L478.5 205.0L478.5 203.8L478.6 202.6L478.7 201.4L478.7 200.2L478.8 198.9L478.9 197.7L478.9 196.5L479.0 195.3L479.1 194.1L479.2 192.9L479.2 191.7L479.3 190.5L479.4 189.3L479.5 188.1L479.5 186.9L479.6 185.7L479.7 184.5L479.8 183.3L479.8 182.1L479.9 180.9L480.0 179.7L480.1 178.5L480.2 177.3L480.2 176.1L480.3 174.9L480.4 173.7L480.5 172.5L480.6 171.3L480.6 170.1L480.7 168.9L480.8 167.7L480.9 166.5L481.0 165.3L481.0 164.1L481.1 162.9L481.2 161.7L481.3 160.5L481.4 159.3L481.5 158.1L481.5 156.9L481.6 155.7L481.7 154.5L481.8 153.3L481.9 152.1L481.9 150.9L482.0 149.7L482.1 148.5L482.2 147.3L482.3 146.1L482.4 144.9L482.4 143.7L482.5 142.5L482.6 141.3L482.7 140.1L482.8 138.9L482.8 137.7L482.9 136.5L483.0 135.3L483.1 134.1L483.2 132.9L483.2 131.7L483.3 130.5L483.4 129.3L483.5 128.1L483.6 126.9L483.7 125.7L483.7 124.5L483.8 123.3L483.9 122.1L484.0 120.9L484.1 119.7L484.2 118.5L484.2 117.3L484.3 116.1L484.4 114.9L484.5 113.7L484.6 112.5L484.7 111.3L484.8 110.1L484.9 108.9L485.0 107.7L485.1 106.5L485.2 105.3L485.3 104.1L485.4 102.9L485.5 101.7L485.6 100.5L485.7 99.3L485.8 98.1L485.9 96.9L486.0 95.7L486.1 94.5L486.2 93.3L486.3 92.1L486.5 90.9L486.6 89.7L486.7 88.5L486.8 87.3L486.9 86.1L487.1 84.9L487.2 83.7L487.3 82.5L487.5 81.3L487.6 80.1L487.7 78.9L487.9 77.7L488.0 76.5L488.2 75.3L488.3 74.1L488.5 72.9L488.6 71.7L488.8 70.5L488.9 69.3L489.1 68.1L489.2 66.9L489.4 65.7L489.6 64.5L489.7 63.3L489.9 62.1L490.1 60.9L490.2 59.7L490.4 58.5L490.6 57.3L490.8 56.1L491.0 54.9L491.3 53.7L491.5 52.5L491.8 51.3L492.2 50.1L492.6 49.0L493.0 47.8L493.5 46.9L494.0 46.2L494.6 46.0L495.3 46.4L495.9 47.1L496.6 48.1L497.1 49.2L497.7 50.4L498.1 51.5L498.5 52.8L498.9 54.0L499.2 55.2L499.5 56.5L499.8 57.7L500.1 59.0L500.4 60.2L500.7 61.4L500.9 62.6L501.3 63.8L501.6 65.0L501.9 66.1L502.2 67.3L502.5 68.4L502.9 69.5L503.2 70.7L503.5 71.8L503.8 72.9L504.2 74.0L504.5 75.1L504.8 76.2L505.2 77.4L505.5 78.5L505.8 79.6L506.1 80.8L506.4 82.0L506.7 83.2L507.0 84.4L507.3 85.6L507.6 86.8L507.9 88.0L508.2 89.2L508.5 90.4L508.8 91.6L509.1 92.8L509.5 94.0L509.9 95.2L510.3 96.3L510.8 97.5L511.2 98.6L511.7 99.7L512.3 100.7L512.9 101.8L513.5 102.8L514.2 103.7L514.9 104.7L515.7 105.6L516.5 106.4L517.3 107.3L518.2 108.1L519.0 108.9L519.9 109.7L520.8 110.5L521.7 111.3L522.6 112.1L523.6 112.9L524.5 113.7L525.4 114.5L526.3 115.3L527.2 116.1L528.0 116.9L528.9 117.8L529.7 118.6L530.5 119.5L531.2 120.5L532.0 121.4L532.7 122.4L533.4 123.3L534.1 124.3L534.8 125.3L535.5 126.3L536.1 127.3L536.8 128.3L537.5 129.3L538.1 130.3L538.8 131.3L539.5 132.3L540.2 133.3L540.9 134.3L541.6 135.3L542.3 136.2L543.0 137.2L543.7 138.1L544.5 139.1L545.2 140.0L546.0 141.0L546.7 141.9L547.5 142.8L548.2 143.8L549.0 144.7L549.8 145.6L550.5 146.5L551.3 147.4L552.1 148.4L552.9 149.3L553.7 150.2L554.5 151.1L555.3 152.0L556.1 152.9L556.9 153.8L557.7 154.7L558.5 155.5L559.3 156.4L560.1 157.3L560.9 158.2L561.7 159.1L562.5 160.0L563.3 160.9L564.2 161.8L565.0 162.6L565.8 163.5L566.6 164.4L567.5 165.3L568.3 166.1L569.1 167.0L569.9 167.9L570.8 168.8L571.6 169.6L572.4 170.5L573.3 171.4L574.1 172.3L574.9 173.1L575.8 174.0L576.6 174.9L577.4 175.7L578.3 176.6L579.1 177.5L580.0 178.3L580.8 179.2L581.6 180.1L582.5 180.9L583.3 181.8L584.2 182.6L585.0 183.5L585.9 184.4L586.7 185.2L587.6 186.1L588.4 186.9L589.2 187.8L590.1 188.7L590.9 189.5L591.8 190.4L592.6 191.3L593.5 192.1L594.3 193.0L595.1 193.8L596.0 194.7L596.8 195.6L597.7 196.4L598.5 197.3L599.4 198.1L600.2 199.0L601.0 199.9L601.9 200.7L602.7 201.6L603.5 202.5L604.4 203.3L605.2 204.2L606.0 205.1L606.9 205.9L607.7 206.8L608.5 207.7L609.4 208.5L610.2 209.4L611.0 210.3L611.8 211.1L612.7 212.0L613.5 212.9L614.3 213.8L615.1 214.6L615.9 215.5L616.8 216.4L617.6 217.3L618.4 218.1L619.2 219.0L620.0 219.9L620.8 220.8L621.7 221.7L622.5 222.5L623.3 223.4L624.1 224.3L624.9 225.2L625.7 226.1L626.5 227.0L627.3 227.9L628.1 228.8L628.9 229.6L629.7 230.5L630.5 231.4L631.4 232.3L632.2 233.2L633.0 234.1L633.8 235.0L634.6 235.9L635.4 236.8L636.2 237.7L637.0 238.6L637.8 239.5L638.6 240.4L639.4 241.3L640.2 242.2L641.0 243.1L641.7 244.0L642.5 245.0L643.3 245.9L644.1 246.8L644.9 247.7L645.7 248.6L646.5 249.5L647.3 250.4L648.1 251.4L648.9 252.3L649.7 253.2L650.5 254.1L651.3 255.0L652.1 255.9L652.9 256.8L653.7 257.7L654.5 258.6L655.4 259.5L656.2 260.4L657.0 261.3L657.8 262.2L658.6 263.1L659.5 263.9L660.3 264.8L661.2 265.7L662.0 266.5L662.9 267.4L663.7 268.2L664.6 269.1L665.4 269.9L666.3 270.7L667.2 271.5L668.1 272.4L669.0 273.2L669.9 273.9L670.8 274.7L671.7 275.5L672.6 276.3L673.5 277.0L674.5 277.8L675.4 278.5L676.3 279.2L677.3 279.9L678.3 280.6L679.3 281.3L680.2 282.0L681.2 282.7L682.2 283.3L683.2 284.0L684.3 284.6L685.3 285.2L686.3 285.8L687.3 286.4L688.4 287.0L689.4 287.6L690.5 288.2L691.6 288.7L692.6 289.3L693.7 289.8L694.8 290.3L695.9 290.8L697.0 291.4L698.1 291.8L699.2 292.3L700.3 292.8L701.4 293.3L702.5 293.7L703.6 294.1L704.8 294.6L705.9 295.0L707.0 295.4L708.2 295.8L709.3 296.2L710.5 296.5L711.6 296.9L712.8 297.2L713.9 297.6L715.1 297.9L716.3 298.2L717.4 298.5L718.6 298.8L719.8 299.1L721.0 299.4L722.1 299.7L723.3 299.9L724.5 300.2L725.7 300.4L726.9 300.6L728.1 300.8L729.3 301.1L730.5 301.2L731.7 301.4L732.8 301.6L734.0 301.8L735.2 301.9L736.4 302.1L737.6 302.2L738.8 302.3L740.0 302.4L741.2 302.5L742.4 302.6L743.6 302.7L744.8 302.8L746.0 302.8L747.2 302.9L748.4 302.9L749.6 302.9L750.8 303.1" fill="none" stroke="#EE7733" stroke-width="1.55" stroke-dasharray="5.74 2.48" stroke-dashoffset="1.50"/>
<path d="M475.3 301.2L475.9 303.0L476.4 303.8L476.9 303.8L477.3 303.2L477.7 302.2L478.1 301.0L478.4 299.8L478.6 298.6L478.9 297.4L479.1 296.2L479.3 295.0L479.5 293.8L479.7 292.6L479.8 291.4L480.0 290.2L480.1 289.0L480.3 287.8L480.4 286.6L480.5 285.4L480.7 284.2L480.8 283.0L480.9 281.8L481.0 280.6L481.1 279.4L481.3 278.2L481.4 277.0L481.5 275.8L481.6 274.6L481.7 273.4L481.8 272.2L481.9 271.0L482.1 269.8L482.2 268.6L482.3 267.4L482.4 266.2L482.5 265.0L482.6 263.8L482.7 262.6L482.8 261.4L482.9 260.2L483.0 259.0L483.1 257.8L483.2 256.6L483.4 255.4L483.5 254.2L483.6 253.0L483.7 251.8L483.8 250.6L483.9 249.4L484.0 248.2L484.1 247.0L484.2 245.8L484.4 244.6L484.5 243.4L484.6 242.2L484.7 241.0L484.8 239.8L484.9 238.6L485.0 237.4L485.2 236.2L485.3 235.0L485.4 233.8L485.5 232.6L485.6 231.4L485.7 230.2L485.8 229.0L485.9 227.8L486.1 226.7L486.2 225.5L486.3 224.3L486.4 223.1L486.5 221.9L486.6 220.7L486.7 219.5L486.9 218.3L487.0 217.1L487.1 215.9L487.2 214.7L487.3 213.5L487.4 212.3L487.5 211.1L487.6 209.9L487.7 208.7L487.9 207.5L488.0 206.3L488.1 205.1L488.2 203.9L488.3 202.7L488.4 201.5L488.5 200.3L488.6 199.1L488.7 197.9L488.8 196.7L488.9 195.5L489.1 194.3L489.2 193.1L489.3 191.9L489.4 190.7L489.5 189.5L489.6 188.3L489.7 187.1L489.8 185.9L489.9 184.7L490.0 183.5L490.1 182.3L490.2 181.1L490.3 179.9L490.4 178.7L490.5 177.5L490.6 176.3L490.7 175.1L490.8 173.9L490.9 172.7L491.0 171.5L491.1 170.3L491.2 169.1L491.3 167.9L491.4 166.7L491.5 165.5L491.6 164.3L491.6 163.1L491.7 161.9L491.8 160.7L491.9 159.5L492.0 158.3L492.1 157.1L492.2 155.9L492.3 154.7L492.4 153.5L492.5 152.3L492.5 151.1L492.6 149.9L492.7 148.7L492.8 147.5L492.9 146.2L493.0 145.0L493.0 143.8L493.1 142.6L493.2 141.4L493.3 140.2L493.4 139.0L493.5 137.8L493.5 136.6L493.6 135.4L493.7 134.2L493.8 133.0L493.9 131.8L494.0 130.6L494.1 129.4L494.2 128.3L494.3 127.1L494.5 125.9L494.6 124.7L494.8 123.6L494.9 122.4L495.1 121.2L495.3 120.0L495.6 118.8L495.9 117.6L496.2 116.4L496.5 115.1L496.9 113.9L497.3 112.6L497.7 111.4L498.2 110.1L498.7 108.9L499.3 108.0L499.9 107.4L500.4 107.3L501.0 107.7L501.6 108.5L502.2 109.6L502.8 110.8L503.3 112.0L503.8 113.3L504.3 114.5L504.8 115.7L505.2 116.9L505.6 118.0L506.1 119.2L506.5 120.3L506.8 121.5L507.2 122.6L507.6 123.7L507.9 124.9L508.3 126.0L508.6 127.1L509.0 128.2L509.3 129.3L509.7 130.5L510.1 131.6L510.5 132.8L510.9 133.9L511.3 135.1L511.7 136.2L512.1 137.3L512.6 138.5L513.1 139.6L513.6 140.7L514.2 141.8L514.7 142.9L515.3 144.0L516.0 145.1L516.7 146.1L517.4 147.1L518.2 148.1L519.0 149.0L519.9 149.7L520.8 150.3L521.8 150.7L522.8 150.9L523.9 151.0L525.0 150.9L526.1 150.6L527.3 150.3L528.5 149.9L529.7 149.6L530.9 149.2L532.2 148.9L533.4 148.8L534.5 148.7L535.7 148.8L536.8 149.0L537.9 149.4L539.0 149.9L540.1 150.5L541.1 151.2L542.1 151.9L543.2 152.7L544.2 153.5L545.2 154.3L546.1 155.2L547.1 156.0L548.1 156.8L549.1 157.5L550.0 158.3L551.0 159.0L552.0 159.7L553.0 160.3L554.0 160.9L555.0 161.5L556.0 162.0L557.1 162.5L558.2 163.0L559.3 163.3L560.4 163.7L561.5 163.9L562.7 164.2L563.8 164.4L565.0 164.6L566.2 164.8L567.4 164.9L568.6 165.1L569.9 165.2L571.1 165.4L572.3 165.5L573.5 165.7L574.7 165.9L575.9 166.2L577.0 166.5L578.2 166.8L579.4 167.1L580.5 167.5L581.7 167.9L582.8 168.3L583.9 168.7L585.1 169.1L586.2 169.6L587.3 170.0L588.4 170.5L589.5 171.0L590.6 171.4L591.7 171.9L592.9 172.4L594.0 172.8L595.1 173.3L596.2 173.8L597.3 174.2L598.4 174.7L599.5 175.2L600.6 175.7L601.7 176.2L602.8 176.6L603.9 177.1L605.0 177.7L606.0 178.2L607.1 178.7L608.2 179.2L609.3 179.7L610.3 180.3L611.4 180.9L612.5 181.4L613.5 182.0L614.6 182.6L615.6 183.2L616.7 183.8L617.7 184.4L618.7 185.1L619.8 185.7L620.8 186.3L621.8 187.0L622.8 187.7L623.8 188.4L624.8 189.0L625.8 189.7L626.7 190.5L627.7 191.2L628.7 191.9L629.6 192.6L630.6 193.4L631.5 194.1L632.4 194.9L633.3 195.7L634.3 196.4L635.2 197.2L636.1 198.0L636.9 198.8L637.8 199.7L638.7 200.5L639.6 201.3L640.4 202.1L641.3 203.0L642.1 203.8L643.0 204.7L643.8 205.5L644.6 206.4L645.5 207.3L646.3 208.2L647.1 209.1L647.9 209.9L648.7 210.8L649.5 211.7L650.3 212.6L651.1 213.6L651.9 214.5L652.6 215.4L653.4 216.3L654.2 217.3L654.9 218.2L655.7 219.1L656.5 220.1L657.2 221.0L658.0 222.0L658.7 222.9L659.5 223.9L660.2 224.8L660.9 225.8L661.7 226.7L662.4 227.7L663.1 228.6L663.9 229.6L664.6 230.6L665.3 231.5L666.0 232.5L666.8 233.5L667.5 234.5L668.2 235.4L668.9 236.4L669.6 237.4L670.4 238.3L671.1 239.3L671.8 240.3L672.5 241.2L673.2 242.2L673.9 243.2L674.7 244.1L675.4 245.1L676.1 246.1L676.8 247.0L677.5 248.0L678.3 248.9L679.0 249.9L679.7 250.9L680.4 251.8L681.2 252.7L681.9 253.7L682.6 254.6L683.4 255.6L684.1 256.5L684.9 257.4L685.6 258.3L686.4 259.3L687.2 260.2L687.9 261.1L688.7 262.0L689.5 262.9L690.3 263.8L691.1 264.6L692.0 265.5L692.8 266.4L693.6 267.3L694.5 268.1L695.3 269.0L696.2 269.8L697.1 270.6L698.0 271.4L698.9 272.3L699.8 273.1L700.7 273.9L701.6 274.7L702.6 275.4L703.5 276.2L704.5 277.0L705.4 277.7L706.4 278.4L707.4 279.2L708.4 279.9L709.4 280.6L710.3 281.3L711.3 282.0L712.4 282.6L713.4 283.3L714.4 283.9L715.4 284.6L716.4 285.2L717.5 285.8L718.5 286.4L719.5 287.0L720.6 287.6L721.7 288.1L722.7 288.7L723.8 289.2L724.9 289.8L725.9 290.3L727.0 290.8L728.1 291.3L729.2 291.8L730.3 292.3L731.4 292.8L732.5 293.2L733.6 293.7L734.7 294.1L735.8 294.5L737.0 295.0L738.1 295.4L739.2 295.8L740.4 296.2L741.5 296.6L742.7 296.9L743.8 297.3L745.0 297.6L746.1 298.0L747.3 298.3L748.5 298.7L749.6 299.0L750.8 299.3" fill="none" stroke="#CC3311" stroke-width="1.55" stroke-linejoin="round"/>
</g>
<path d="M470.20 304.90v-4.40M470.20 20.25v4.40M481.42 304.90v-2.30M481.42 20.25v2.30M492.64 304.90v-2.30M492.64 20.25v2.30M503.86 304.90v-2.30M503.86 20.25v2.30M515.08 304.90v-2.30M515.08 20.25v2.30M526.30 304.90v-4.40M526.30 20.25v4.40M537.52 304.90v-2.30M537.52 20.25v2.30M548.74 304.90v-2.30M548.74 20.25v2.30M559.96 304.90v-2.30M559.96 20.25v2.30M571.18 304.90v-2.30M571.18 20.25v2.30M582.40 304.90v-4.40M582.40 20.25v4.40M593.62 304.90v-2.30M593.62 20.25v2.30M604.84 304.90v-2.30M604.84 20.25v2.30M616.06 304.90v-2.30M616.06 20.25v2.30M627.28 304.90v-2.30M627.28 20.25v2.30M638.50 304.90v-4.40M638.50 20.25v4.40M649.72 304.90v-2.30M649.72 20.25v2.30M660.94 304.90v-2.30M660.94 20.25v2.30M672.16 304.90v-2.30M672.16 20.25v2.30M683.38 304.90v-2.30M683.38 20.25v2.30M694.60 304.90v-4.40M694.60 20.25v4.40M705.82 304.90v-2.30M705.82 20.25v2.30M717.04 304.90v-2.30M717.04 20.25v2.30M728.26 304.90v-2.30M728.26 20.25v2.30M739.48 304.90v-2.30M739.48 20.25v2.30M750.70 304.90v-4.40M750.70 20.25v4.40M458.90 304.90h4.40M750.80 304.90h-4.40M458.90 295.25h2.30M750.80 295.25h-2.30M458.90 285.60h2.30M750.80 285.60h-2.30M458.90 275.95h2.30M750.80 275.95h-2.30M458.90 266.30h2.30M750.80 266.30h-2.30M458.90 256.65h4.40M750.80 256.65h-4.40M458.90 247.00h2.30M750.80 247.00h-2.30M458.90 237.35h2.30M750.80 237.35h-2.30M458.90 227.70h2.30M750.80 227.70h-2.30M458.90 218.05h2.30M750.80 218.05h-2.30M458.90 208.40h4.40M750.80 208.40h-4.40M458.90 198.75h2.30M750.80 198.75h-2.30M458.90 189.10h2.30M750.80 189.10h-2.30M458.90 179.45h2.30M750.80 179.45h-2.30M458.90 169.80h2.30M750.80 169.80h-2.30M458.90 160.15h4.40M750.80 160.15h-4.40M458.90 150.50h2.30M750.80 150.50h-2.30M458.90 140.85h2.30M750.80 140.85h-2.30M458.90 131.20h2.30M750.80 131.20h-2.30M458.90 121.55h2.30M750.80 121.55h-2.30M458.90 111.90h4.40M750.80 111.90h-4.40M458.90 102.25h2.30M750.80 102.25h-2.30M458.90 92.60h2.30M750.80 92.60h-2.30M458.90 82.95h2.30M750.80 82.95h-2.30M458.90 73.30h2.30M750.80 73.30h-2.30M458.90 63.65h4.40M750.80 63.65h-4.40M458.90 54.00h2.30M750.80 54.00h-2.30M458.90 44.35h2.30M750.80 44.35h-2.30M458.90 34.70h2.30M750.80 34.70h-2.30M458.90 25.05h2.30M750.80 25.05h-2.30" stroke="#1a1a1a" stroke-width="0.85" fill="none"/>
<rect x="458.90" y="20.25" width="291.90" height="284.65" fill="none" stroke="#1a1a1a" stroke-width="0.95"/>
<text class="tk" x="470.35" y="319.4" text-anchor="middle">0</text>
<text class="tk" x="526.45" y="319.4" text-anchor="middle">100</text>
<text class="tk" x="582.55" y="319.4" text-anchor="middle">200</text>
<text class="tk" x="638.65" y="319.4" text-anchor="middle">300</text>
<text class="tk" x="694.75" y="319.4" text-anchor="middle">400</text>
<text class="tk" x="750.85" y="319.4" text-anchor="middle">500</text>
<text class="tk" x="453.10" y="309.30" text-anchor="end">0.000</text>
<text class="tk" x="453.10" y="261.05" text-anchor="end">0.001</text>
<text class="tk" x="453.10" y="212.80" text-anchor="end">0.002</text>
<text class="tk" x="453.10" y="164.55" text-anchor="end">0.003</text>
<text class="tk" x="453.10" y="116.30" text-anchor="end">0.004</text>
<text class="tk" x="453.10" y="68.05" text-anchor="end">0.005</text>
<text class="tk" transform="translate(415.40 162.4) rotate(-90)" text-anchor="middle" style="letter-spacing:0.7px;font-size:13.4px">PDF</text>
<text class="tk" x="573.95" y="337.70" font-style="italic" style="font-size:13.4px">v</text>
<text class="tk" x="585.45" y="337.70">(</text>
<text class="tk" transform="translate(589.65 337.70) scale(1.07 1)">km</text>
<text class="tk" transform="translate(610.05 337.70) scale(1.1 1)">s</text>
<path d="M616.55 331.45h5.8" stroke="#1a1a1a" stroke-width="0.8"/>
<text class="tk" x="623.75" y="334.4" style="font-size:9.8px">1</text>
<text class="tk" x="631.35" y="337.70">)</text>
<text class="tt" x="553.95" y="10.8">2.60</text>
<text class="tt" x="585.95" y="10.8">–</text>
<text class="tt" x="598.55" y="10.8">2.80</text>
<text class="tt" transform="translate(631.75 10.8) scale(1.2 1)" font-style="italic">M</text>
<circle cx="651.25" cy="10.3" r="3.6" fill="none" stroke="#1a1a1a" stroke-width="0.85"/>
<circle cx="651.25" cy="10.3" r="0.95" fill="#1a1a1a"/>
<path d="M620.50 31.30H640.50" stroke="#0077BB" stroke-width="1.55" stroke-dasharray="1.55 2.56" stroke-dashoffset="-0.50"/>
<text class="lg" transform="translate(647.20 34.60) scale(1.05 1)">Smoothed</text>
<path d="M620.50 44.55H640.50" stroke="#EE7733" stroke-width="1.55" stroke-dasharray="5.74 2.48" stroke-dashoffset="-0.70"/>
<text class="lg" transform="translate(647.20 47.85) scale(1.05 1)">Error rectified</text>
<path d="M620.50 57.80H640.50" stroke="#CC3311" stroke-width="1.55"/>
<text class="lg" transform="translate(647.20 61.10) scale(1.05 1)">Projection rectified</text>
</svg>
</body></html>
